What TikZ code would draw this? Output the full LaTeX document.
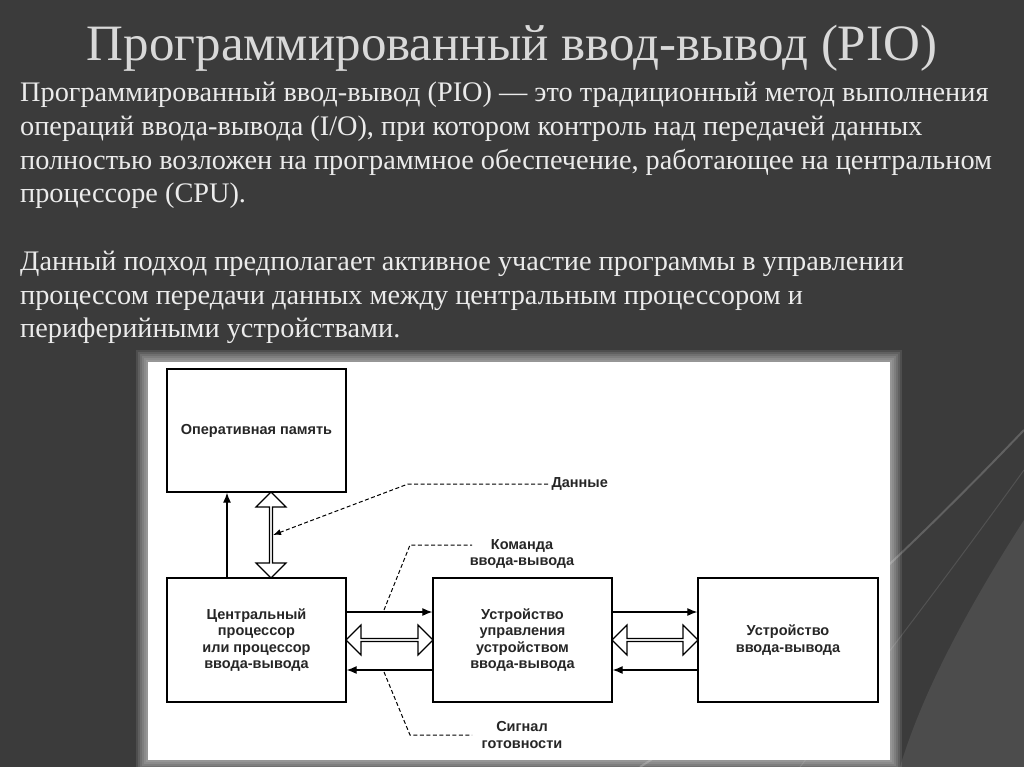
\documentclass[tikz,border=0pt]{standalone}
\usepackage{fontspec}
\setmainfont{Liberation Serif}
\newfontfamily\diag{Liberation Sans}
\usetikzlibrary{arrows.meta,shapes.arrows}
\begin{document}
\begin{tikzpicture}[x=1pt,y=-1pt,
  box/.style={draw,line width=1.3pt,fill=white},
  lbl/.style={font=\diag\bfseries\fontsize{14.5}{16.5}\selectfont,align=center,text=black!85},
  sarr/.style={line width=1.2pt,-{Latex[length=10pt,width=8pt]}},
  dsh/.style={dashed,line width=1pt,dash pattern=on 4pt off 2.5pt},
  harr/.style={draw,line width=1.1pt,fill=white,double arrow,double arrow head extend=5pt,minimum height=#1,inner sep=0pt,minimum width=30pt,double arrow head indent=0pt},
  body/.style={font=\fontsize{28.3}{33.6}\selectfont,text=white!92!black,align=left,anchor=north west,inner sep=0pt}]
\useasboundingbox (0,0) rectangle (1024,767);
\fill[black!77] (0,0) rectangle (1024,767);
% decorative arcs
\draw[black!62,line width=2pt] (1024,430) .. controls (900,560) and (760,690) .. (640,767);
\draw[black!68,line width=1pt] (1024,470) .. controls (930,600) and (860,690) .. (800,767);
\fill[black!70] (1024,520) .. controls (960,620) and (920,700) .. (900,767) -- (1024,767) -- cycle;
% title
\node[font=\fontsize{51}{56}\selectfont,text=black!15] (title) at (512,48) {Программированный ввод-вывод (PIO)};
\node[body] (p1) at (20,82) {Программированный ввод-вывод (PIO) — это традиционный метод выполнения\\операций ввода-вывода (I/O), при котором контроль над передачей данных\\полностью возложен на программное обеспечение, работающее на центральном\\процессоре (CPU).};
\node[body] (p2) at (20,251) {Данный подход предполагает активное участие программы в управлении\\процессом передачи данных между центральным процессором и\\периферийными устройствами.};
% white panel with glow
\foreach \i in {12,10,8,6,4,2}{\fill[white,opacity=0.1] (148-\i,362-\i) rectangle (890+\i,760+\i);}
\fill[white] (148,362) rectangle (890,760);
% boxes
\node[box,minimum width=179pt,minimum height=123pt,lbl] (ram) at (256.5,430.5) {Оперативная память};
\node[box,minimum width=179pt,minimum height=124pt,lbl] (cpu) at (256.5,640) {Центральный\\процессор\\или процессор\\ввода-вывода};
\node[box,minimum width=179pt,minimum height=124pt,lbl] (ctl) at (522.5,640) {Устройство\\управления\\устройством\\ввода-вывода};
\node[box,minimum width=180pt,minimum height=124pt,lbl] (dev) at (788,640) {Устройство\\ввода-вывода};
% vertical arrows
\draw[sarr] (cpu.north west -| 227,0) -- (ram.south west -| 227,0);
\node[harr=86pt,rotate=90] (vda) at (271,535) {};
% horizontal
\draw[sarr] (cpu.east |- 0,612) -- (ctl.west |- 0,612);
\draw[sarr] (ctl.west |- 0,670) -- (cpu.east |- 0,670);
\node[harr=87pt] (hda1) at (389.5,640) {};
\draw[sarr] (ctl.east |- 0,612) -- (dev.west |- 0,612);
\draw[sarr] (dev.west |- 0,670) -- (ctl.east |- 0,670);
\node[harr=86pt] (hda2) at (655,640) {};
% labels
\node[lbl,anchor=west] (dan) at (548,484) {Данные};
\node[lbl] (kom) at (522,554) {Команда\\ввода-вывода};
\node[lbl] (sig) at (522,735) {Сигнал\\готовности};
\coordinate (k1) at (384,610);
\coordinate (s1) at (384,672);
\draw[dsh,-{Latex[length=8pt,width=6pt]}] (dan.west) -- (408,484) -- (vda.south);
\draw[dsh] (k1) -- (410,545) -- (472,545);
\draw[dsh] (s1) -- (410,735) -- (472,735);
\end{tikzpicture}
\end{document}
